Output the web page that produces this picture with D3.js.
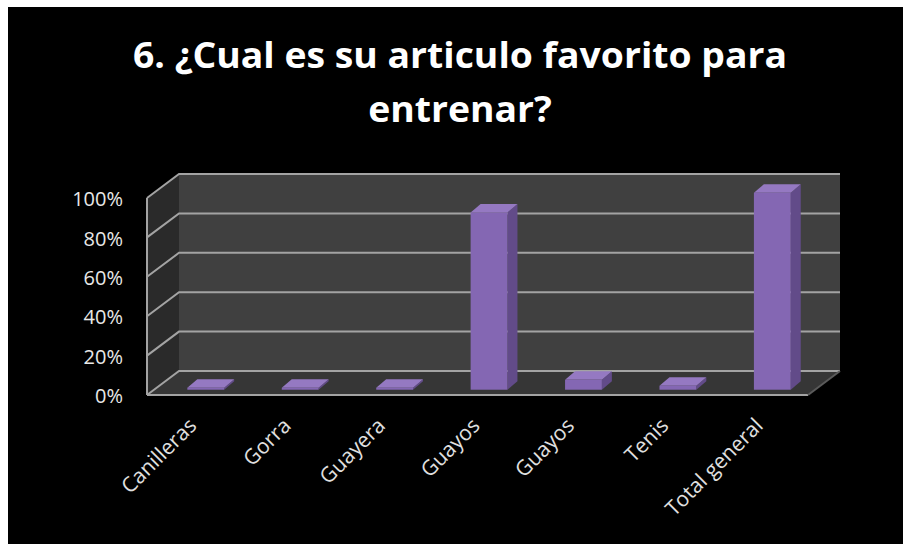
<!DOCTYPE html>
<html>
<head>
<meta charset="utf-8">
<script src="https://cdn.jsdelivr.net/npm/d3@7"></script>
<style>
  html, body { margin: 0; padding: 0; background: #ffffff; }
  svg { display: block; }
</style>
</head>
<body>
<svg id="chart" width="903" height="544"></svg>
<script>
// Survey answers: favourite training item
const categories = ["Canilleras", "Gorra", "Guayera", "Guayos", "Guayos", "Tenis", "Total general"];
const values = [0.01, 0.01, 0.01, 0.90, 0.05, 0.02, 1.00];
const tickValues = [0, 0.2, 0.4, 0.6, 0.8, 1.0];
const titleLines = ["6. ¿Cual es su articulo favorito para", "entrenar?"];

const svg = d3.select("#chart");

// black panel
svg.append("rect").attr("x", 8).attr("y", 7).attr("width", 895).attr("height", 537).attr("fill", "#000");

// title
const titleFont = "'Open Sans', 'DejaVu Sans', sans-serif";
const title = svg.append("g").attr("font-family", titleFont).attr("font-weight", 700)
  .attr("font-size", 35).attr("fill", "#ffffff").attr("text-anchor", "middle");
const t1 = title.append("text").attr("x", 460).attr("y", 68).text(titleLines[0]);
const t2 = title.append("text").attr("x", 460).attr("y", 122).text(titleLines[1]);
const squeeze = 654 / t1.node().getComputedTextLength();
[t1, t2].forEach(t => {
  const w = t.node().getComputedTextLength();
  t.attr("textLength", w * squeeze).attr("lengthAdjust", "spacingAndGlyphs");
});

// 3-D plot frame: front plane and depth vector
const frame = { x0: 147, x1: 808, yBase: 395, yTop: 198 };
const depth = { dx: 32, dy: -24 };

const y = d3.scaleLinear().domain([0, 1]).range([frame.yBase, frame.yTop]);
const x = d3.scaleBand().domain(d3.range(categories.length)).range([frame.x0, frame.x1]);

const pts = a => a.map(p => p.join(",")).join(" ");
const walls = svg.append("g");

// back wall
walls.append("polygon").attr("fill", "#404040").attr("points", pts([
  [frame.x0 + depth.dx, y(1) + depth.dy], [frame.x1 + depth.dx, y(1) + depth.dy],
  [frame.x1 + depth.dx, y(0) + depth.dy], [frame.x0 + depth.dx, y(0) + depth.dy]]));
// side wall
walls.append("polygon").attr("fill", "#2a2a2a").attr("points", pts([
  [frame.x0, y(1)], [frame.x0 + depth.dx, y(1) + depth.dy],
  [frame.x0 + depth.dx, y(0) + depth.dy], [frame.x0, y(0)]]));
// floor
walls.append("polygon").attr("fill", "#363636").attr("points", pts([
  [frame.x0, y(0)], [frame.x0 + depth.dx, y(0) + depth.dy],
  [frame.x1 + depth.dx, y(0) + depth.dy], [frame.x1, y(0)]]));

// gridlines on back wall and side wall
const gridColor = "#a3a3a3";
const grid = svg.append("g").attr("stroke", gridColor).attr("stroke-width", 2).attr("fill", "none");
tickValues.forEach(v => {
  grid.append("polyline").attr("points", pts([
    [frame.x0, y(v)], [frame.x0 + depth.dx, y(v) + depth.dy], [frame.x1 + depth.dx, y(v) + depth.dy]]));
});
// frame edges
grid.append("line").attr("x1", frame.x0).attr("x2", frame.x0).attr("y1", y(1)).attr("y2", y(0));
grid.append("line").attr("x1", frame.x0).attr("x2", frame.x1).attr("y1", y(0)).attr("y2", y(0));
grid.append("line").attr("stroke", "#5a5a5a").attr("x1", frame.x1).attr("x2", frame.x1 + depth.dx)
  .attr("y1", y(0)).attr("y2", y(0) + depth.dy);

// bars
const barFront = 0.22;              // bar front face position within depth
const barShift = 4.5;
const barW = x.bandwidth() * 0.39;
const bd = { dx: 10, dy: -8.5 };    // bar depth
const bars = svg.append("g");
values.forEach((v, i) => {
  const cx = x(i) + x.bandwidth() / 2 + depth.dx * barFront + barShift;
  const xl = cx - barW / 2, xr = cx + barW / 2;
  const yt = y(v) + depth.dy * barFront, yb = y(0) + depth.dy * barFront;
  const g = bars.append("g");
  g.append("polygon").attr("fill", "#624b89").attr("points", pts([
    [xr, yt], [xr + bd.dx, yt + bd.dy], [xr + bd.dx, yb + bd.dy], [xr, yb]]));
  g.append("polygon").attr("fill", "#9579c2").attr("points", pts([
    [xl, yt], [xl + bd.dx, yt + bd.dy], [xr + bd.dx, yt + bd.dy], [xr, yt]]));
  g.append("rect").attr("fill", "#8467b3").attr("x", xl).attr("y", yt)
    .attr("width", barW).attr("height", yb - yt);
});

// value axis labels
const axis = svg.append("g").attr("transform", `translate(${frame.x0},0)`)
  .call(d3.axisLeft(y).tickValues(tickValues).tickFormat(d3.format(".0%")).tickSize(0).tickPadding(24));
axis.select(".domain").remove();
axis.selectAll("text").attr("font-family", titleFont).attr("font-size", 20)
  .attr("fill", "#e8e8e8").attr("dy", "0.38em");

// category labels
svg.append("g").attr("font-family", titleFont).attr("font-size", 21).attr("fill", "#e0e0e0")
  .selectAll("text").data(categories).join("text")
  .attr("text-anchor", "end")
  .attr("transform", (d, i) => {
    const cx = x(i) + x.bandwidth() / 2 + depth.dx * barFront + barShift;
    return `translate(${cx - 8},427) rotate(-45)`;
  })
  .text(d => d);
</script>
</body>
</html>
